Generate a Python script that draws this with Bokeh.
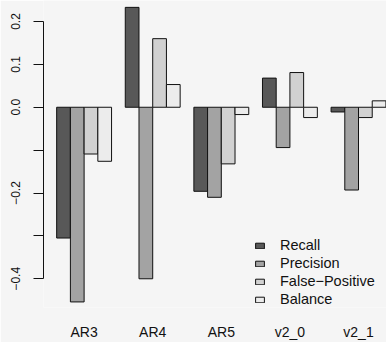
from bokeh.plotting import figure
from bokeh.models import ColumnDataSource, Range1d, FixedTicker, Legend, LegendItem
from bokeh.embed import file_html
from bokeh.resources import INLINE

# ---- data ----
groups = ["AR3", "AR4", "AR5", "v2_0", "v2_1"]
series_names = ["Recall", "Precision", "False\u2212Positive", "Balance"]
recall = [-0.305, 0.233, -0.196, 0.068, -0.011]
precision = [-0.454, -0.400, -0.210, -0.094, -0.193]
false_positive = [-0.109, 0.160, -0.132, 0.081, -0.024]
balance = [-0.126, 0.053, -0.017, -0.024, 0.015]
y_ticks = [-0.4, -0.3, -0.2, -0.1, 0.0, 0.1, 0.2]
y_tick_labels = ["\u22120.4", "", "\u22120.2", "", "0.0", "0.1", "0.2"]

colors = ["#585858", "#a3a3a3", "#d1d1d1", "#ececec"]
all_series = [recall, precision, false_positive, balance]

FONT = "Liberation Sans"
BG = "#f5f5f5"
INK = "#111111"
W, H = 386, 342

p = figure(width=W, height=H, output_backend="svg", toolbar_location=None,
           x_range=Range1d(0.04, 25.04), y_range=Range1d(-0.467, 0.249),
           min_border_left=43, min_border_right=0, min_border_top=0, min_border_bottom=32)
p.background_fill_color = BG
p.border_fill_color = BG
p.outline_line_color = None
p.xgrid.visible = False
p.ygrid.visible = False

n_series = len(all_series)
group_w = n_series + 1
items = []
for s, (vals, col, name) in enumerate(zip(all_series, colors, series_names)):
    xs = [1 + group_w * g + s + 0.5 for g in range(len(groups))]
    src = ColumnDataSource(dict(x=xs, top=vals))
    r = p.vbar(x="x", top="top", bottom=0, width=1, source=src,
               fill_color=col, line_color=INK, line_width=1)
    items.append(LegendItem(label=name, renderers=[r]))

# y axis
ya = p.yaxis[0]
ya.ticker = FixedTicker(ticks=y_ticks)
ya.major_label_overrides = {t: l for t, l in zip(y_ticks, y_tick_labels)}
ya.bounds = (-0.4, 0.2)
ya.minor_tick_line_color = None
ya.minor_tick_out = 0
ya.major_tick_in = 0
ya.major_tick_out = 10
ya.major_label_orientation = "vertical"
ya.major_label_standoff = 13
ya.major_label_text_font = FONT
ya.major_label_text_font_size = "12px"
ya.major_label_text_color = INK
ya.axis_line_color = INK
ya.major_tick_line_color = INK

# x axis (group names only)
centers = [1 + group_w * g + n_series / 2 for g in range(len(groups))]
xa = p.xaxis[0]
xa.ticker = FixedTicker(ticks=centers)
xa.major_label_overrides = {c: gname for c, gname in zip(centers, groups)}
xa.axis_line_color = None
xa.major_tick_line_color = None
xa.minor_tick_line_color = None
xa.major_tick_in = 0
xa.major_tick_out = 0
xa.minor_tick_out = 0
xa.major_label_standoff = 16
xa.major_label_text_font = FONT
xa.major_label_text_font_size = "14px"
xa.major_label_text_color = INK

legend = Legend(items=items, location=(211, 0), orientation="vertical",
                glyph_width=11, glyph_height=7, label_standoff=15,
                spacing=2, padding=0, margin=0,
                label_text_font=FONT, label_text_font_size="14.5px",
                label_text_color=INK,
                background_fill_alpha=0, border_line_color=None)
p.add_layout(legend)

open("out.html", "w").write(file_html(p, INLINE))
